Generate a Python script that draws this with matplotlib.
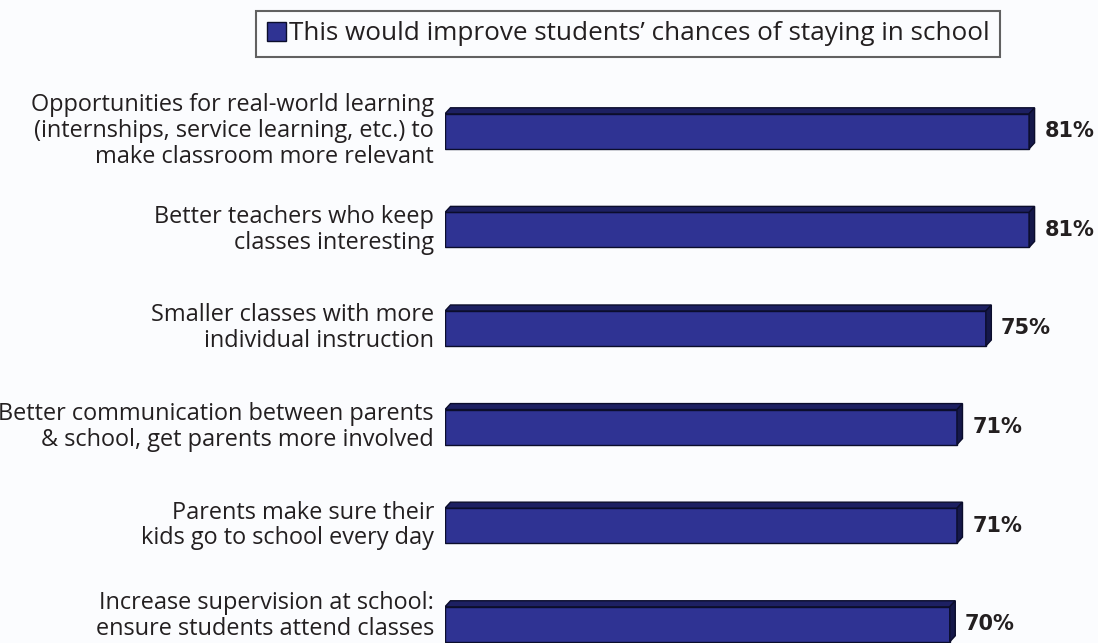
import matplotlib
matplotlib.use("Agg")
import matplotlib.pyplot as plt
from matplotlib.patches import Polygon
import matplotlib.transforms as mtransforms

categories = [
    "Opportunities for real-world learning\n(internships, service learning, etc.) to\nmake classroom more relevant",
    "Better teachers who keep\nclasses interesting",
    "Smaller classes with more\nindividual instruction",
    "Better communication between parents\n& school, get parents more involved",
    "Parents make sure their\nkids go to school every day",
    "Increase supervision at school:\nensure students attend classes",
]
values = [81, 81, 75, 71, 71, 70]
value_labels = ["81%", "81%", "75%", "71%", "71%", "70%"]
series_name = "This would improve students\u2019 chances of staying in school"

FRONT = "#2f3393"
TOP = "#1d2062"
SIDE = "#15184a"
EDGE = "#0b0d2c"
BG = "#fbfcfe"
FONT = ["Open Sans", "DejaVu Sans"]

W, H = 1098, 643
fig = plt.figure(figsize=(W / 100, H / 100), dpi=100, facecolor=BG)
ax = fig.add_axes([445 / W, 0 / H, 649 / W, 561 / H])
ax.set_facecolor(BG)

ypos = list(range(len(values)))
bar_h = 0.355
bars = ax.barh(ypos, values, height=bar_h, color=FRONT, edgecolor=EDGE,
               linewidth=1.0, label=series_name, zorder=3)

ax.set_xlim(0, 90)
ax.set_ylim(5.19, -0.5)

# 3D depth (in data units, derived from pixel scale)
dx = 5.5 / 7.21
dy = 6.0 / 98.6
for y, v in zip(ypos, values):
    top = y - bar_h / 2
    bot = y + bar_h / 2
    ax.add_patch(Polygon([(0, top), (v, top), (v + dx, top - dy), (dx, top - dy)],
                         closed=True, facecolor=TOP, edgecolor=EDGE, linewidth=1.0, zorder=3))
    ax.add_patch(Polygon([(v, top), (v + dx, top - dy), (v + dx, bot - dy), (v, bot)],
                         closed=True, facecolor=SIDE, edgecolor=EDGE, linewidth=1.0, zorder=3))
    ax.annotate(value_labels[y], xy=(v + dx, y), xytext=(7, 0), textcoords="offset points",
                ha="left", va="center", fontsize=15, fontweight="bold",
                color="#231f20", family=["DejaVu Sans"])

ax.set_yticks(ypos)
ax.set_yticklabels(categories, fontsize=16.9, color="#231f20", family=FONT,
                   linespacing=1.1)
ax.tick_params(axis="y", length=0, pad=8)
labels = ax.get_yticklabels()
for i, lbl in enumerate(labels):
    up = 12 if i == len(labels) - 1 else 4
    shift = mtransforms.ScaledTranslation(0, up / 100, fig.dpi_scale_trans)
    lbl.set_transform(lbl.get_transform() + shift)
ax.set_xticks([])
for s in ax.spines.values():
    s.set_visible(False)

leg = fig.legend(handles=[bars], labels=[series_name], loc="center",
                 bbox_to_anchor=(628 / W, 1 - 34 / H), frameon=True, fancybox=False,
                 prop={"family": FONT, "size": 18.8},
                 handlelength=0.75, handleheight=0.75, handletextpad=0.1,
                 borderpad=0.4, borderaxespad=0)
leg.get_frame().set_edgecolor("#3a3a3a")
leg.get_frame().set_linewidth(1.5)
leg.get_frame().set_facecolor(BG)
for t in leg.get_texts():
    t.set_color("#231f20")

fig.savefig("out.png", dpi=100, facecolor=BG)
